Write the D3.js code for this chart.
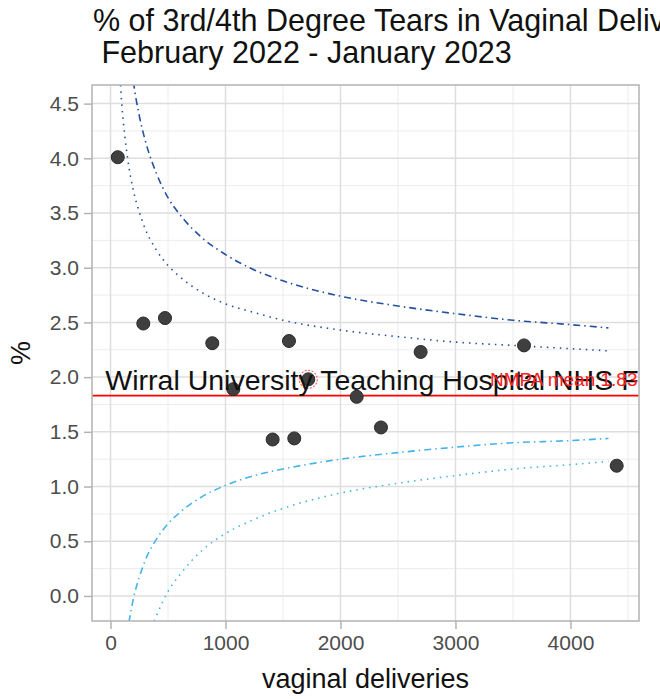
<!DOCTYPE html>
<html>
<head>
<meta charset="utf-8">
<script src="https://cdn.jsdelivr.net/npm/d3@7"></script>
<style>
  body { margin: 0; background: #fff; }
  svg { font-family: "Liberation Sans", Arial, sans-serif; display: block; }
</style>
</head>
<body>
<div id="chart"></div>
<script>
// trusts: vaginal deliveries vs % 3rd/4th degree tears
var deliveries = [63, 285, 474, 885, 1068, 1410, 1552, 1598, 1720, 2141, 2352, 2697, 3596, 4402];
var tearPct    = [4.01, 2.49, 2.54, 2.31, 1.89, 1.43, 2.33, 1.44, 1.98, 1.82, 1.54, 2.23, 2.29, 1.19];
var highlightIndex = 8;
var highlightName = "Wirral University Teaching Hospital NHS Foundation Trust";
var nmpaMean = 1.83;

// funnel limits
var upper95N  = [80, 100, 125, 150, 200, 250, 300, 400, 500, 600, 800, 1000, 1250, 1500, 2000, 2500, 3000, 3500, 4000, 4330];
var upper95   = [4.79, 4.47, 4.20, 3.99, 3.70, 3.51, 3.36, 3.16, 3.02, 2.92, 2.77, 2.67, 2.59, 2.52, 2.43, 2.37, 2.32, 2.29, 2.26, 2.24];
var upper998N = [180, 200, 250, 300, 400, 500, 600, 800, 1000, 1250, 1500, 2000, 2500, 3000, 3500, 4000, 4330];
var upper998  = [4.85, 4.69, 4.39, 4.17, 3.86, 3.64, 3.49, 3.27, 3.12, 2.98, 2.88, 2.74, 2.65, 2.58, 2.52, 2.48, 2.45];
var lower95N  = [160, 200, 250, 300, 400, 500, 600, 800, 1000, 1250, 1500, 2000, 2500, 3000, 3500, 4000, 4330];
var lower95   = [-0.24, -0.02, 0.17, 0.32, 0.52, 0.66, 0.76, 0.91, 1.01, 1.10, 1.16, 1.25, 1.31, 1.36, 1.40, 1.42, 1.44];
var lower998N = [380, 400, 500, 600, 800, 1000, 1250, 1500, 2000, 2500, 3000, 3500, 4000, 4330];
var lower998  = [-0.23, -0.18, 0.04, 0.19, 0.42, 0.57, 0.70, 0.80, 0.94, 1.03, 1.10, 1.16, 1.20, 1.23];

var xTicks = [0, 1000, 2000, 3000, 4000];
var xMinor = [500, 1500, 2500, 3500, 4500];
var yTicks = [0, 0.5, 1, 1.5, 2, 2.5, 3, 3.5, 4, 4.5];
var yMinor = [0.25, 0.75, 1.25, 1.75, 2.25, 2.75, 3.25, 3.75, 4.25];

var W = 660, H = 699;
var margin = { top: 85, right: 21, bottom: 78, left: 92 };
var pw = W - margin.left - margin.right, ph = H - margin.top - margin.bottom;

var x = d3.scaleLinear().domain([-161, 4596]).range([0, pw]);
var y = d3.scaleLinear().domain([-0.229, 4.67]).range([ph, 0]);

var svg = d3.select("#chart").append("svg")
  .attr("width", W).attr("height", H);

svg.append("defs").append("clipPath").attr("id", "clip")
  .append("rect").attr("width", pw).attr("height", ph);

var g = svg.append("g").attr("transform", "translate(" + margin.left + "," + margin.top + ")");

// grid
g.selectAll(".xminor").data(xMinor).enter().append("line")
  .attr("x1", function (d) { return x(d); }).attr("x2", function (d) { return x(d); })
  .attr("y1", 0).attr("y2", ph).attr("stroke", "#ececec").attr("stroke-width", 1);
g.selectAll(".yminor").data(yMinor).enter().append("line")
  .attr("y1", function (d) { return y(d); }).attr("y2", function (d) { return y(d); })
  .attr("x1", 0).attr("x2", pw).attr("stroke", "#ececec").attr("stroke-width", 1);
g.selectAll(".xmajor").data(xTicks).enter().append("line")
  .attr("x1", function (d) { return x(d); }).attr("x2", function (d) { return x(d); })
  .attr("y1", 0).attr("y2", ph).attr("stroke", "#dedede").attr("stroke-width", 1.5);
g.selectAll(".ymajor").data(yTicks).enter().append("line")
  .attr("y1", function (d) { return y(d); }).attr("y2", function (d) { return y(d); })
  .attr("x1", 0).attr("x2", pw).attr("stroke", "#dedede").attr("stroke-width", 1.5);

var plot = g.append("g").attr("clip-path", "url(#clip)");

var line = d3.line()
  .x(function (d) { return x(d[0]); })
  .y(function (d) { return y(d[1]); })
  .curve(d3.curveMonotoneX);

function drawLimit(ns, vals, colour, dash) {
  plot.append("path")
    .datum(d3.zip(ns, vals))
    .attr("d", line)
    .attr("fill", "none")
    .attr("stroke", colour)
    .attr("stroke-width", 1.6)
    .attr("stroke-dasharray", dash);
}
drawLimit(upper95N, upper95, "#2350a0", "1.5,5");
drawLimit(upper998N, upper998, "#2350a0", "7,4,1.5,4");
drawLimit(lower95N, lower95, "#45b4e8", "7,4,1.5,4");
drawLimit(lower998N, lower998, "#45b4e8", "1.5,5");

// NMPA mean line
plot.append("line")
  .attr("x1", 0).attr("x2", pw)
  .attr("y1", y(nmpaMean)).attr("y2", y(nmpaMean))
  .attr("stroke", "#ff0000").attr("stroke-width", 1.8);

// points
plot.selectAll(".pt").data(d3.zip(deliveries, tearPct)).enter().append("circle")
  .attr("cx", function (d) { return x(d[0]); })
  .attr("cy", function (d) { return y(d[1]); })
  .attr("r", 6.5)
  .attr("fill", "#3f3f3f")
  .attr("stroke", "#2a2a2a")
  .attr("stroke-width", 1);

// highlighted trust
plot.append("circle")
  .attr("cx", x(deliveries[highlightIndex]))
  .attr("cy", y(tearPct[highlightIndex]))
  .attr("r", 9)
  .attr("fill", "none")
  .attr("stroke", "#ff6666")
  .attr("stroke-width", 1.2)
  .attr("stroke-dasharray", "2,1.5");

plot.append("text")
  .attr("x", x(-45))
  .attr("y", y(tearPct[highlightIndex]))
  .attr("dy", "0.37em")
  .attr("font-size", 28.5)
  .attr("fill", "#111")
  .text(highlightName);

plot.append("text")
  .attr("x", x(3300))
  .attr("y", y(tearPct[highlightIndex]))
  .attr("dy", "0.37em")
  .attr("font-size", 19)
  .attr("fill", "#ff2020")
  .text("NMPA mean " + nmpaMean.toFixed(2));

// panel border
g.append("rect").attr("width", pw).attr("height", ph)
  .attr("fill", "none").attr("stroke", "#b3b3b3").attr("stroke-width", 1.5);

// axes
var xAxis = g.append("g").attr("transform", "translate(0," + ph + ")")
  .call(d3.axisBottom(x).tickValues(xTicks).tickSize(8).tickPadding(6).tickFormat(d3.format("d")));
var yAxis = g.append("g")
  .call(d3.axisLeft(y).tickValues(yTicks).tickSize(8).tickPadding(5).tickFormat(d3.format(".1f")));
[xAxis, yAxis].forEach(function (a) {
  a.select(".domain").remove();
  a.selectAll(".tick line").attr("stroke", "#b3b3b3").attr("stroke-width", 1.5);
  a.selectAll(".tick text").attr("fill", "#4d4d4d").attr("font-size", 21)
    .attr("font-family", "Liberation Sans, Arial, sans-serif");
});

// titles
svg.append("text").attr("x", margin.left + pw / 2).attr("y", 688)
  .attr("text-anchor", "middle").attr("font-size", 27).attr("fill", "#111")
  .text("vaginal deliveries");
svg.append("text")
  .attr("transform", "translate(30," + (margin.top + ph / 2) + ") rotate(-90)")
  .attr("text-anchor", "middle").attr("font-size", 27).attr("fill", "#111")
  .text("%");

var title = svg.append("text").attr("font-size", 30.5).attr("fill", "#111");
title.append("tspan").attr("x", 93).attr("y", 31)
  .text("% of 3rd/4th Degree Tears in Vaginal Deliveries");
title.append("tspan").attr("x", 93).attr("y", 63)
  .style("white-space", "pre")
  .text(" February 2022 - January 2023");
</script>
</body>
</html>
